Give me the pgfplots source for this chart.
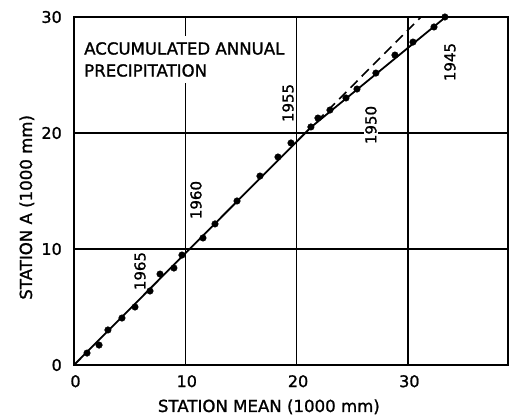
\documentclass[border=0pt]{standalone}
\usepackage{fontspec}
\setmainfont{DejaVu Sans}[FakeBold=1.2]
\usepackage{pgfplots}
\pgfplotsset{compat=1.18}
\begin{document}
\begin{tikzpicture}
\useasboundingbox (-74bp,-54bp) rectangle (438bp,365bp);
\begin{axis}[
  at={(0,0)}, anchor=south west, scale only axis,
  width=434bp, height=348bp,
  xmin=0, xmax=39, ymin=0, ymax=30,
  xtick={0,10,20,30}, ytick={0,10,20,30},
  major tick length=0pt,
  grid=major,
  grid style={black, line width=1.4bp},
  axis line style={black, line width=1.8bp},
  /pgf/number format/assume math mode=true,
  ticklabel style={font=\fontsize{16bp}{18bp}\selectfont, inner sep=0pt},
  xticklabel style={anchor=north, yshift=-10bp, xshift=1.5bp},
  yticklabel style={anchor=east, xshift=-12bp},
  xlabel={STATION MEAN (1000 mm)},
  ylabel={STATION A (1000 mm)},
  label style={font=\fontsize{16.6bp}{20bp}\selectfont},
  xlabel style={at={(rel axis cs:0.449,-0.135)}, anchor=base},
  ylabel style={at={(rel axis cs:-0.0968,0.453)}, anchor=base},
  clip=false,
]
\addplot[black, line width=1.8bp] coordinates {(0,0) (21.3,20.5) (33.4,30)};
\addplot[black, line width=1.6bp, dash pattern=on 10bp off 6bp] coordinates {(21.8,20.98) (31.18,30)};
\addplot[only marks, mark=*, mark size=3.3bp, black] coordinates {
(1.17,1.03) (2.25,1.72) (3.05,3.02) (4.31,4.05) (5.48,5.00) (6.83,6.38)
(7.73,7.84) (8.98,8.36) (9.70,9.48) (11.59,10.95) (12.67,12.16) (14.65,14.14)
(16.71,16.29) (18.33,17.93) (19.50,19.14) (21.29,20.52) (21.92,21.29) (23.00,21.98)
(24.44,23.02) (25.43,23.79) (27.13,25.17) (28.84,26.72) (30.46,27.84) (32.35,29.14)
(33.33,30.00)
};
\node[anchor=north west, fill=white, inner xsep=2bp, inner ysep=6bp, align=left,
  font=\fontsize{16.6bp}{22bp}\selectfont] at (axis cs:0.72,28.36) {ACCUMULATED ANNUAL\\PRECIPITATION};
\node[rotate=90, fill=white, inner sep=1bp, font=\fontsize{15bp}{16bp}\selectfont] at (axis cs:5.93,8.10) {1965};
\node[rotate=90, inner sep=1bp, font=\fontsize{15bp}{16bp}\selectfont] at (axis cs:10.96,14.22) {1960};
\node[rotate=90, fill=white, inner sep=1bp, font=\fontsize{15bp}{16bp}\selectfont] at (axis cs:19.23,22.59) {1955};
\node[rotate=90, fill=white, inner sep=1.5bp, font=\fontsize{15bp}{16bp}\selectfont] at (axis cs:26.68,20.69) {1950};
\node[rotate=90, fill=white, inner sep=1bp, font=\fontsize{15bp}{16bp}\selectfont] at (axis cs:33.78,26.12) {1945};
\end{axis}
\end{tikzpicture}
\end{document}
